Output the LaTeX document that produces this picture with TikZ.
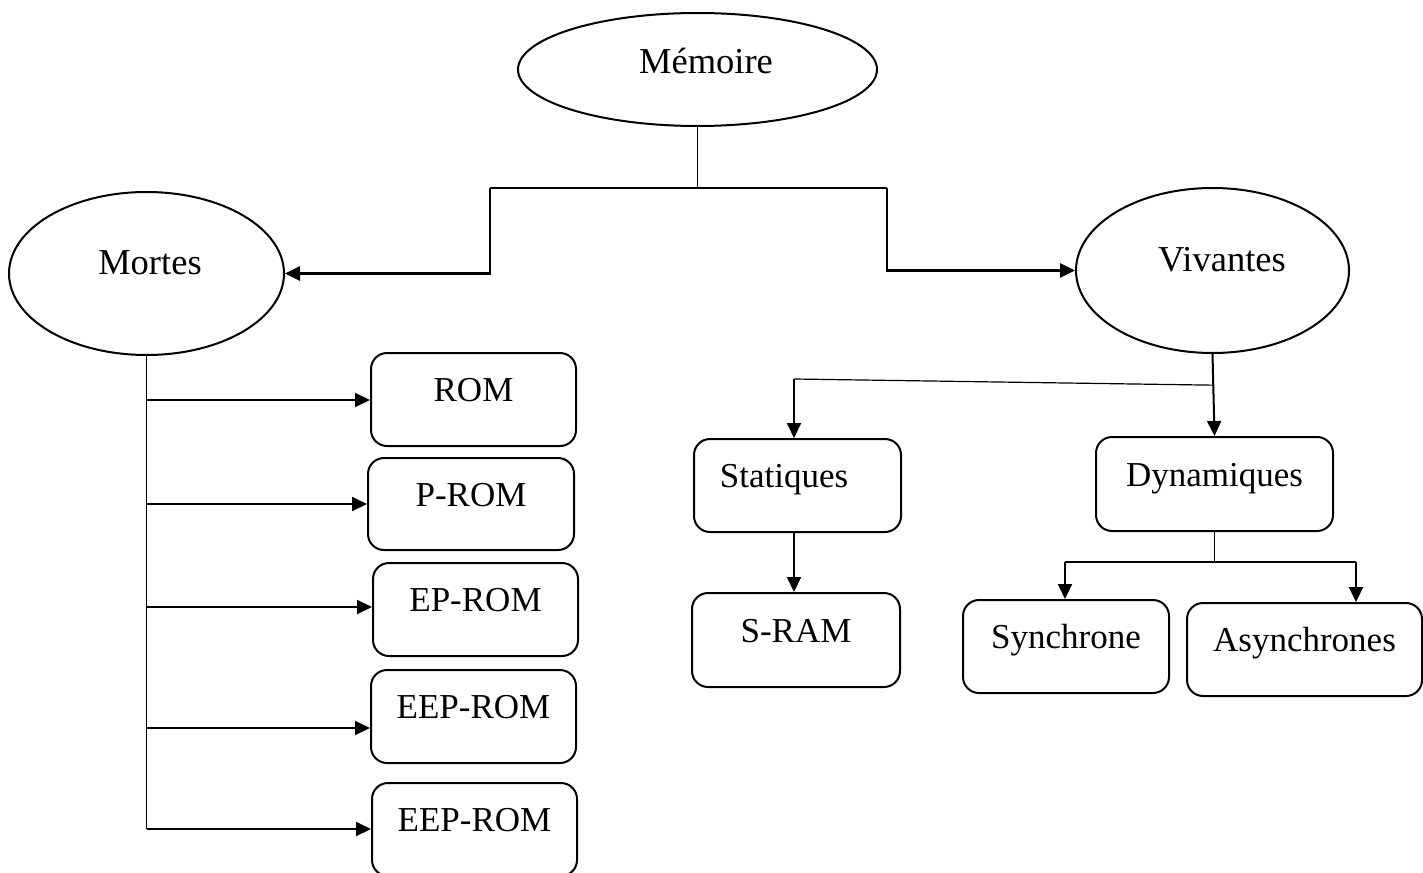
\documentclass[tikz,border=0pt]{standalone}
\usepackage{fontspec}
\setmainfont{Liberation Serif}
\usetikzlibrary{shapes.geometric,arrows.meta}
\tikzset{
  ell/.style={ellipse, draw, line width=2pt, inner sep=0pt, text height=13pt, text depth=11pt,
    font=\fontsize{36.5}{42}\selectfont},
  rbox/.style={rectangle, draw, line width=2pt, rounded corners=16pt, inner sep=0pt,
    text height=14pt, text depth=10pt, font=\fontsize{35}{42}\selectfont},
  thk/.style={line width=2.8pt},
  med/.style={line width=2pt},
  thn/.style={line width=1.2pt},
  arr/.style={-{Triangle[length=15pt,width=14pt]}},
}
\begin{document}
\begin{tikzpicture}[x=1pt,y=-1pt]
\useasboundingbox (0,0) rectangle (1423,872);
% ellipses
\node[ell, minimum width=359pt, minimum height=113pt, text height=17pt, text depth=8pt] (mem) at (697.5,69.5) {\hspace*{17pt}Mémoire};
\node[ell, minimum width=275pt, minimum height=163pt] (mor) at (146.5,273.5) {\hspace*{7pt}Mortes};
\node[ell, minimum width=273pt, minimum height=165pt] (viv) at (1212.5,270.5) {\hspace*{19pt}Vivantes};
% left boxes
\node[rbox, minimum width=205pt, minimum height=93pt] (rom) at (473.5,399.5) {ROM};
\node[rbox, minimum width=206pt, minimum height=92pt] (prom) at (471,504) {P-ROM};
\node[rbox, minimum width=205pt, minimum height=93pt] (eprom) at (475.5,609.5) {EP-ROM};
\node[rbox, minimum width=205pt, minimum height=93pt] (eep1) at (473.5,716.5) {EEP-ROM};
\node[rbox, minimum width=205pt, minimum height=93pt] (eep2) at (474.5,829.5) {EEP-ROM};
% right boxes
\node[rbox, minimum width=207pt, minimum height=93pt] (stat) at (797.5,485.5) {Statiques\hspace*{27pt}};
\node[rbox, minimum width=208pt, minimum height=94pt] (sram) at (796,640) {S-RAM};
\node[rbox, minimum width=237pt, minimum height=94pt] (dyn) at (1214.5,484) {Dynamiques};
\node[rbox, minimum width=206pt, minimum height=93pt] (syn) at (1066,646.5) {Synchrone};
\node[rbox, minimum width=235pt, minimum height=93pt] (asy) at (1304.5,649.5) {Asynchrones};
% top connectors
\coordinate (jl) at (490,188);
\coordinate (jr) at (887,188);
\coordinate (jm) at (696,188);
\draw[thn] (mem.south) -- (mem.south |- jm);
\draw[thk] (jl) -- (jr);
\draw[thk,arr] (jl) -- (jl |- mor.east) -- (mor.east);
\draw[thk,arr] (jr) -- (jr |- viv.west) -- (viv.west);
% Mortes trunk
\coordinate (t1) at (147,400);
\coordinate (t2) at (147,504);
\coordinate (t3) at (147,607);
\coordinate (t4) at (147,728);
\coordinate (t5) at (147,829);
\draw[thn] (mor.south) -- (mor.south |- t5);
\draw[med,arr] (t1) -- (t1 -| rom.west);
\draw[med,arr] (t2) -- (t2 -| prom.west);
\draw[med,arr] (t3) -- (t3 -| eprom.west);
\draw[med,arr] (t4) -- (t4 -| eep1.west);
\draw[med,arr] (t5) -- (t5 -| eep2.west);
% Vivantes branch
\draw[med,arr] (viv.south) -- coordinate[pos=0.38] (vb) (dyn.north);
\coordinate (sl) at (794,379);
\draw[thn] (vb) -- (sl);
\draw[med,arr] (sl) -- (sl |- stat.north);
\draw[med,arr] (sl |- stat.south) -- (sl |- sram.north);
% Dynamiques branch
\coordinate (db) at (1215,562);
\coordinate (sa) at (1065,562);
\coordinate (aa) at (1356,562);
\draw[thn] (dyn.south) -- (dyn.south |- db);
\draw[thn] (sa) -- (aa);
\draw[med,arr] (sa) -- (sa |- syn.north);
\draw[med,arr] (aa) -- (aa |- asy.north);
\end{tikzpicture}
\end{document}
